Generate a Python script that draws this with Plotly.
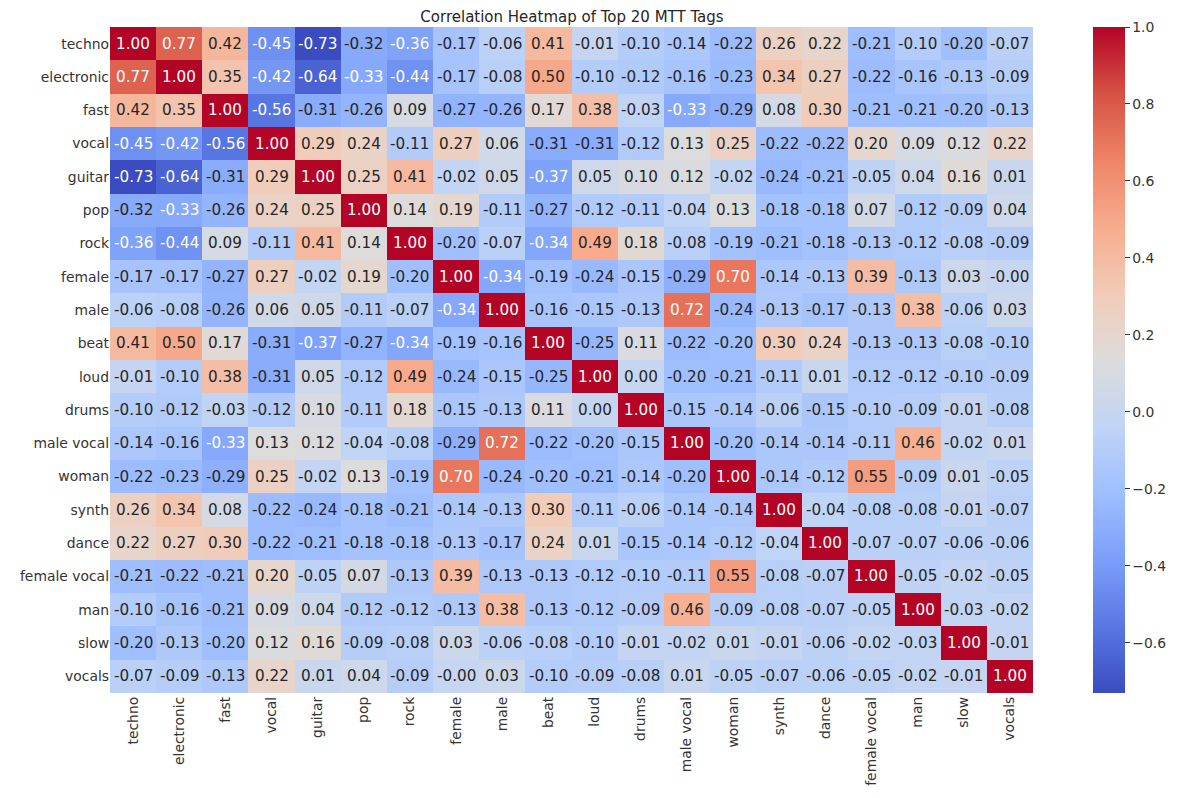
import plotly.graph_objects as go

tags = ["techno", "electronic", "fast", "vocal", "guitar", "pop", "rock", "female", "male", "beat",
        "loud", "drums", "male vocal", "woman", "synth", "dance", "female vocal", "man", "slow", "vocals"]

row_techno = [1.00, 0.77, 0.42, -0.45, -0.73, -0.32, -0.36, -0.17, -0.06, 0.41, -0.01, -0.10, -0.14, -0.22, 0.26, 0.22, -0.21, -0.10, -0.20, -0.07]
row_electronic = [0.77, 1.00, 0.35, -0.42, -0.64, -0.33, -0.44, -0.17, -0.08, 0.50, -0.10, -0.12, -0.16, -0.23, 0.34, 0.27, -0.22, -0.16, -0.13, -0.09]
row_fast = [0.42, 0.35, 1.00, -0.56, -0.31, -0.26, 0.09, -0.27, -0.26, 0.17, 0.38, -0.03, -0.33, -0.29, 0.08, 0.30, -0.21, -0.21, -0.20, -0.13]
row_vocal = [-0.45, -0.42, -0.56, 1.00, 0.29, 0.24, -0.11, 0.27, 0.06, -0.31, -0.31, -0.12, 0.13, 0.25, -0.22, -0.22, 0.20, 0.09, 0.12, 0.22]
row_guitar = [-0.73, -0.64, -0.31, 0.29, 1.00, 0.25, 0.41, -0.02, 0.05, -0.37, 0.05, 0.10, 0.12, -0.02, -0.24, -0.21, -0.05, 0.04, 0.16, 0.01]
row_pop = [-0.32, -0.33, -0.26, 0.24, 0.25, 1.00, 0.14, 0.19, -0.11, -0.27, -0.12, -0.11, -0.04, 0.13, -0.18, -0.18, 0.07, -0.12, -0.09, 0.04]
row_rock = [-0.36, -0.44, 0.09, -0.11, 0.41, 0.14, 1.00, -0.20, -0.07, -0.34, 0.49, 0.18, -0.08, -0.19, -0.21, -0.18, -0.13, -0.12, -0.08, -0.09]
row_female = [-0.17, -0.17, -0.27, 0.27, -0.02, 0.19, -0.20, 1.00, -0.34, -0.19, -0.24, -0.15, -0.29, 0.70, -0.14, -0.13, 0.39, -0.13, 0.03, -0.0001]
row_male = [-0.06, -0.08, -0.26, 0.06, 0.05, -0.11, -0.07, -0.34, 1.00, -0.16, -0.15, -0.13, 0.72, -0.24, -0.13, -0.17, -0.13, 0.38, -0.06, 0.03]
row_beat = [0.41, 0.50, 0.17, -0.31, -0.37, -0.27, -0.34, -0.19, -0.16, 1.00, -0.25, 0.11, -0.22, -0.20, 0.30, 0.24, -0.13, -0.13, -0.08, -0.10]
row_loud = [-0.01, -0.10, 0.38, -0.31, 0.05, -0.12, 0.49, -0.24, -0.15, -0.25, 1.00, 0.00, -0.20, -0.21, -0.11, 0.01, -0.12, -0.12, -0.10, -0.09]
row_drums = [-0.10, -0.12, -0.03, -0.12, 0.10, -0.11, 0.18, -0.15, -0.13, 0.11, 0.00, 1.00, -0.15, -0.14, -0.06, -0.15, -0.10, -0.09, -0.01, -0.08]
row_male_vocal = [-0.14, -0.16, -0.33, 0.13, 0.12, -0.04, -0.08, -0.29, 0.72, -0.22, -0.20, -0.15, 1.00, -0.20, -0.14, -0.14, -0.11, 0.46, -0.02, 0.01]
row_woman = [-0.22, -0.23, -0.29, 0.25, -0.02, 0.13, -0.19, 0.70, -0.24, -0.20, -0.21, -0.14, -0.20, 1.00, -0.14, -0.12, 0.55, -0.09, 0.01, -0.05]
row_synth = [0.26, 0.34, 0.08, -0.22, -0.24, -0.18, -0.21, -0.14, -0.13, 0.30, -0.11, -0.06, -0.14, -0.14, 1.00, -0.04, -0.08, -0.08, -0.01, -0.07]
row_dance = [0.22, 0.27, 0.30, -0.22, -0.21, -0.18, -0.18, -0.13, -0.17, 0.24, 0.01, -0.15, -0.14, -0.12, -0.04, 1.00, -0.07, -0.07, -0.06, -0.06]
row_female_vocal = [-0.21, -0.22, -0.21, 0.20, -0.05, 0.07, -0.13, 0.39, -0.13, -0.13, -0.12, -0.10, -0.11, 0.55, -0.08, -0.07, 1.00, -0.05, -0.02, -0.05]
row_man = [-0.10, -0.16, -0.21, 0.09, 0.04, -0.12, -0.12, -0.13, 0.38, -0.13, -0.12, -0.09, 0.46, -0.09, -0.08, -0.07, -0.05, 1.00, -0.03, -0.02]
row_slow = [-0.20, -0.13, -0.20, 0.12, 0.16, -0.09, -0.08, 0.03, -0.06, -0.08, -0.10, -0.01, -0.02, 0.01, -0.01, -0.06, -0.02, -0.03, 1.00, -0.01]
row_vocals = [-0.07, -0.09, -0.13, 0.22, 0.01, 0.04, -0.09, -0.0001, 0.03, -0.10, -0.09, -0.08, 0.01, -0.05, -0.07, -0.06, -0.05, -0.02, -0.01, 1.00]

z = [row_techno, row_electronic, row_fast, row_vocal, row_guitar, row_pop, row_rock, row_female,
     row_male, row_beat, row_loud, row_drums, row_male_vocal, row_woman, row_synth, row_dance,
     row_female_vocal, row_man, row_slow, row_vocals]

cb_ticks = [-0.6, -0.4, -0.2, 0.0, 0.2, 0.4, 0.6, 0.8, 1.0]

# matplotlib coolwarm sampled at 0, 0.1, ..., 1.0
coolwarm_hex = ['#3b4cc0', '#5977e3', '#7b9ff9', '#9ebeff', '#c0d4f5', '#dddcdc',
                '#f2cbb7', '#f7ac8e', '#ee8468', '#d65244', '#b40426']
colorscale = [[i / 10, c] for i, c in enumerate(coolwarm_hex)]

flat = [v for r in z for v in r]
zmin, zmax = min(flat), max(flat)


def hex2rgb(h):
    return tuple(int(h[i:i + 2], 16) / 255 for i in (1, 3, 5))


def cmap(v):
    t = (v - zmin) / (zmax - zmin)
    t = min(max(t, 0), 1)
    pos = t * 10
    i = min(int(pos), 9)
    f = pos - i
    a, b = hex2rgb(coolwarm_hex[i]), hex2rgb(coolwarm_hex[i + 1])
    return tuple(a[k] + (b[k] - a[k]) * f for k in range(3))


def lum(rgb):
    lin = [c / 12.92 if c <= 0.03928 else ((c + 0.055) / 1.055) ** 2.4 for c in rgb]
    return 0.2126 * lin[0] + 0.7152 * lin[1] + 0.0722 * lin[2]


# page has an 8px body margin, so the figure is sized to fill the rest of the window
W, H = 1170, 790
L, T = 99, 19
R, B = W - 1029, H - 690
plot_w = W - L - R

FONT = "DejaVu Sans"
TICK = 13.9

fig = go.Figure(go.Heatmap(
    z=z, x=tags, y=tags, colorscale=colorscale, zmin=zmin, zmax=zmax,
    colorbar=dict(
        thickness=32, len=1.0, lenmode="fraction", y=0.5, yanchor="middle",
        x=(1089 - L) / plot_w, xanchor="left", xpad=0, ypad=0, outlinewidth=0,
        tickvals=cb_ticks, tickformat=".1f", ticks="outside", ticklen=5,
        tickcolor="#333", tickfont=dict(family=FONT, size=TICK, color="#333"),
    ),
))

annotations = []
for i, rname in enumerate(tags):
    for j, cname in enumerate(tags):
        v = z[i][j]
        col = "#ffffff" if lum(cmap(v)) < 0.408 else "#262626"
        annotations.append(dict(x=cname, y=rname, text=f"{v:.2f}", showarrow=False,
                                font=dict(family=FONT, size=15.2, color=col)))

fig.update_layout(
    width=W, height=H,
    margin=dict(l=L, r=R, t=T, b=B),
    paper_bgcolor="white", plot_bgcolor="white",
    title=dict(text="Correlation Heatmap of Top 20 MTT Tags", x=(L + plot_w / 2) / W,
               xanchor="center", y=1 - 9 / H, yanchor="middle",
               font=dict(family=FONT, size=15, color="#262626")),
    annotations=annotations,
    font=dict(family=FONT, size=TICK, color="#333"),
)
fig.update_xaxes(tickangle=-90, showgrid=False, zeroline=False, ticks="",
                 tickfont=dict(family=FONT, size=TICK, color="#333"))
fig.update_yaxes(autorange="reversed", showgrid=False, zeroline=False, ticks="",
                 tickfont=dict(family=FONT, size=TICK, color="#333"))

fig.write_html("out.html")
